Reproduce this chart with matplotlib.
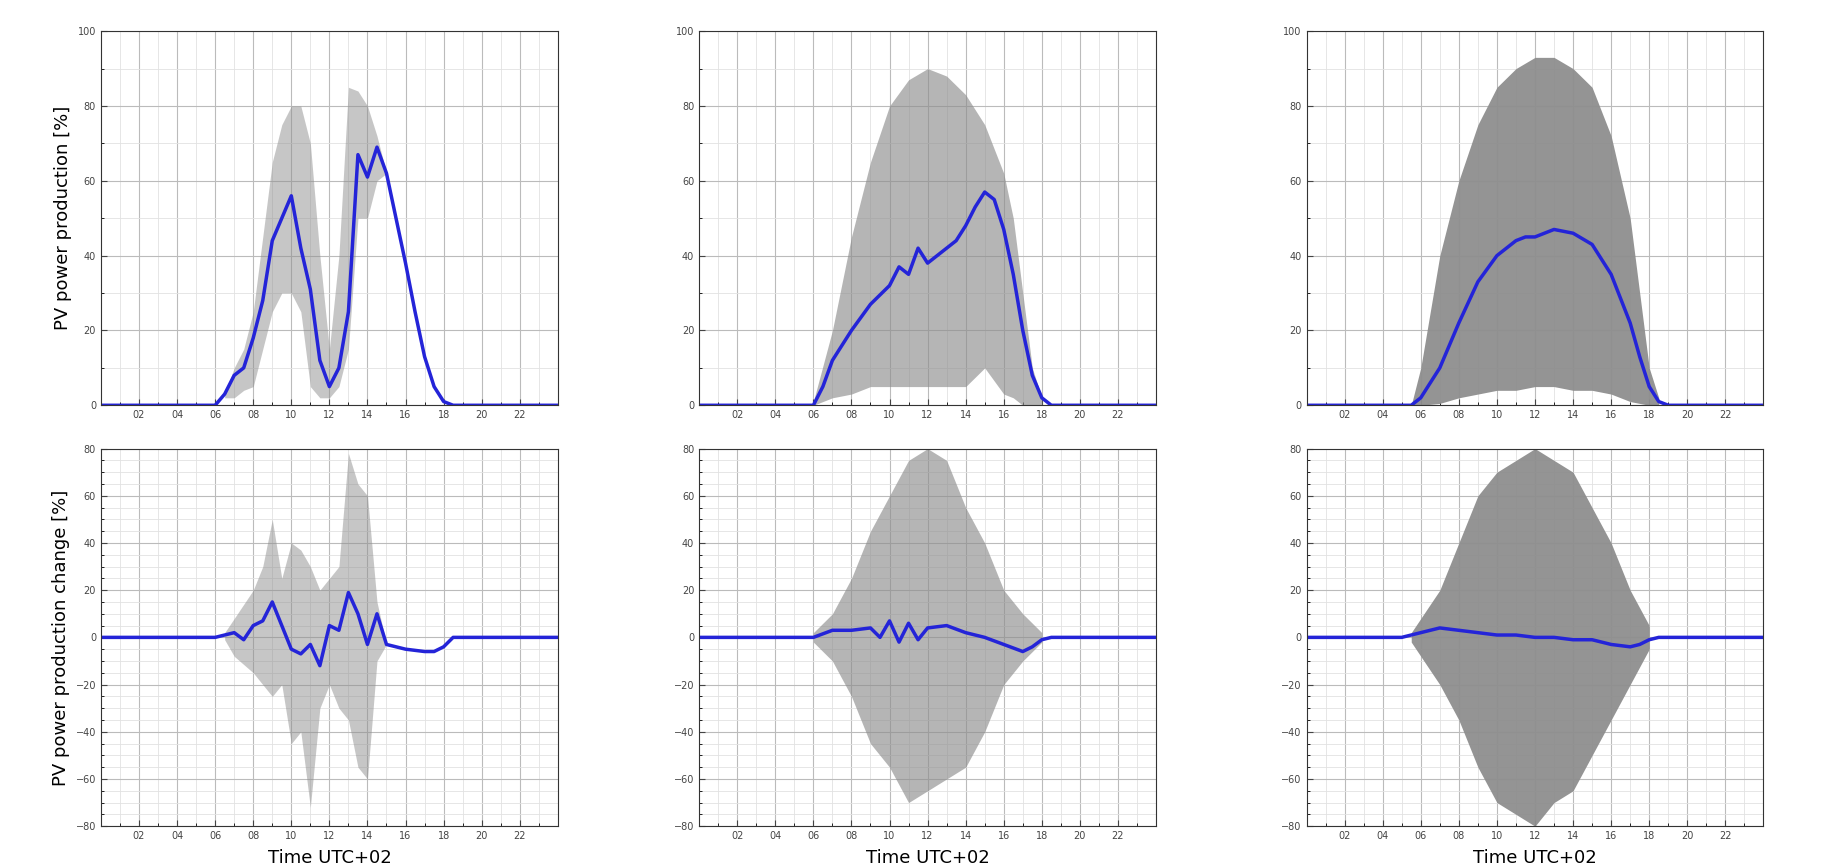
import matplotlib
matplotlib.use("Agg")
import matplotlib.pyplot as plt
from matplotlib.ticker import MultipleLocator

# ---------- data ----------
# Panel 1 (top-left)
p1_t = [0, 6, 6.5, 7, 7.5, 8, 8.5, 9, 9.5, 10, 10.5, 11, 11.5, 12, 12.5, 13, 13.5, 14, 14.5, 15, 15.5, 16, 16.5, 17, 17.5, 18, 18.5, 24]
p1_mean = [0, 0, 3, 8, 10, 18, 28, 44, 50, 56, 42, 31, 12, 5, 10, 25, 67, 61, 69, 62, 50, 38, 25, 13, 5, 1, 0, 0]
p1_et = [6.5, 7, 7.5, 8, 8.5, 9, 9.5, 10, 10.5, 11, 11.5, 12, 12.5, 13, 13.5, 14, 14.5, 15]
p1_hi = [3, 10, 15, 25, 45, 65, 75, 80, 80, 70, 40, 15, 40, 85, 84, 80, 72, 62]
p1_lo = [2, 2, 4, 5, 15, 25, 30, 30, 25, 5, 2, 2, 5, 15, 50, 50, 60, 62]

# Panel 2 (top-middle)
p2_t = [0, 6, 6.5, 7, 8, 9, 10, 10.5, 11, 11.5, 12, 12.5, 13, 13.5, 14, 14.5, 15, 15.5, 16, 16.5, 17, 17.5, 18, 18.5, 24]
p2_mean = [0, 0, 5, 12, 20, 27, 32, 37, 35, 42, 38, 40, 42, 44, 48, 53, 57, 55, 47, 35, 20, 8, 2, 0, 0]
p2_et = [6, 7, 8, 9, 10, 11, 12, 13, 14, 15, 16, 16.5, 17, 17.5, 18]
p2_hi = [1, 20, 45, 65, 80, 87, 90, 88, 83, 75, 62, 50, 30, 10, 2]
p2_lo = [0, 2, 3, 5, 5, 5, 5, 5, 5, 10, 3, 2, 0, 0, 0]

# Panel 3 (top-right)
p3_t = [0, 5.5, 6, 7, 8, 9, 10, 11, 11.5, 12, 13, 14, 15, 16, 17, 17.5, 18, 18.5, 19, 24]
p3_mean = [0, 0, 2, 10, 22, 33, 40, 44, 45, 45, 47, 46, 43, 35, 22, 13, 5, 1, 0, 0]
p3_et = [5.5, 6, 7, 8, 9, 10, 11, 12, 13, 14, 15, 16, 17, 17.5, 18, 18.5]
p3_hi = [0, 10, 40, 60, 75, 85, 90, 93, 93, 90, 85, 72, 50, 30, 10, 2]
p3_lo = [0, 0, 0.5, 2, 3, 4, 4, 5, 5, 4, 4, 3, 1, 0.5, 0, 0]

# Panel 4 (bottom-left)
p4_t = [0, 6, 6.5, 7, 7.5, 8, 8.5, 9, 9.5, 10, 10.5, 11, 11.5, 12, 12.5, 13, 13.5, 14, 14.5, 15, 16, 17, 17.5, 18, 18.5, 19, 24]
p4_mean = [0, 0, 1, 2, -1, 5, 7, 15, 5, -5, -7, -3, -12, 5, 3, 19, 10, -3, 10, -3, -5, -6, -6, -4, 0, 0, 0]
p4_et = [6.5, 7, 8, 8.5, 9, 9.5, 10, 10.5, 11, 11.5, 12, 12.5, 13, 13.5, 14, 14.5, 15]
p4_hi = [2, 8, 20, 30, 50, 25, 40, 37, 30, 20, 25, 30, 78, 65, 60, 15, -3]
p4_lo = [-1, -8, -15, -20, -25, -20, -45, -40, -72, -30, -20, -30, -35, -55, -60, -10, -3]

# Panel 5 (bottom-middle)
p5_t = [0, 6, 7, 8, 9, 9.5, 10, 10.5, 11, 11.5, 12, 13, 14, 15, 16, 17, 17.5, 18, 18.5, 24]
p5_mean = [0, 0, 3, 3, 4, 0, 7, -2, 6, -1, 4, 5, 2, 0, -3, -6, -4, -1, 0, 0]
p5_et = [6, 7, 8, 9, 10, 11, 12, 13, 14, 15, 16, 17, 18]
p5_hi = [2, 10, 25, 45, 60, 75, 80, 75, 55, 40, 20, 10, 2]
p5_lo = [-2, -10, -25, -45, -55, -70, -65, -60, -55, -40, -20, -10, -2]

# Panel 6 (bottom-right)
p6_t = [0, 5, 6, 7, 8, 9, 10, 11, 12, 13, 14, 15, 16, 17, 17.5, 18, 18.5, 24]
p6_mean = [0, 0, 2, 4, 3, 2, 1, 1, 0, 0, -1, -1, -3, -4, -3, -1, 0, 0]
p6_et = [5.5, 6, 7, 8, 9, 10, 11, 12, 13, 14, 15, 16, 17, 18]
p6_hi = [2, 8, 20, 40, 60, 70, 75, 80, 75, 70, 55, 40, 20, 5]
p6_lo = [-2, -8, -20, -35, -55, -70, -75, -80, -70, -65, -50, -35, -20, -5]

xtick_vals = [2, 4, 6, 8, 10, 12, 14, 16, 18, 20, 22]
xtick_labels = ["02", "04", "06", "08", "10", "12", "14", "16", "18", "20", "22"]

# ---------- plot ----------
fig = plt.figure(figsize=(18.35, 8.66), dpi=100)
lefts = [0.055, 0.381, 0.712]
width = 0.249
top_row = (0.532, 0.432)
bot_row = (0.046, 0.436)

panels = [
    (p1_t, p1_mean, p1_et, p1_hi, p1_lo, 0, 0, 0.5),
    (p2_t, p2_mean, p2_et, p2_hi, p2_lo, 1, 0, 0.65),
    (p3_t, p3_mean, p3_et, p3_hi, p3_lo, 2, 0, 0.95),
    (p4_t, p4_mean, p4_et, p4_hi, p4_lo, 0, 1, 0.5),
    (p5_t, p5_mean, p5_et, p5_hi, p5_lo, 1, 1, 0.65),
    (p6_t, p6_mean, p6_et, p6_hi, p6_lo, 2, 1, 0.95),
]

for t, m, et, hi, lo, col, row, alpha in panels:
    b, h = top_row if row == 0 else bot_row
    ax = fig.add_axes([lefts[col], b, width, h])
    ax.set_axisbelow(True)
    ax.fill_between(et, lo, hi, color="#8e8e8e", alpha=alpha, linewidth=0, zorder=2)
    ax.plot(t, m, color="#2424d8", lw=2.5, zorder=3)
    ax.set_xlim(0, 24)
    if row == 0:
        ax.set_ylim(0, 100)
    else:
        ax.set_ylim(-80, 80)
    ax.set_xticks(xtick_vals)
    ax.set_xticklabels(xtick_labels)
    ax.yaxis.set_major_locator(MultipleLocator(20))
    ax.xaxis.set_minor_locator(MultipleLocator(1))
    ax.yaxis.set_minor_locator(MultipleLocator(10 if row == 0 else 5))
    ax.grid(True, which="major", color="#bbbbbb", lw=0.8)
    ax.grid(True, which="minor", color="#e2e2e2", lw=0.6)
    ax.tick_params(labelsize=7, colors="#444444", direction="in", length=4)
    ax.tick_params(which="minor", length=2, direction="in")
    for s in ax.spines.values():
        s.set_color("#333333")
        s.set_zorder(4)
    if col == 0:
        ax.set_ylabel("PV power production [%]" if row == 0 else "PV power production change [%]",
                      fontsize=13)
    if row == 1:
        ax.set_xlabel("Time UTC+02", fontsize=13, labelpad=6)

fig.savefig("out.png", dpi=100)
